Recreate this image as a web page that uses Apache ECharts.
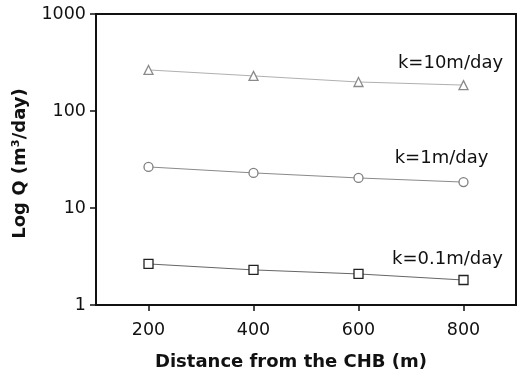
<!DOCTYPE html>
<html>
<head>
<meta charset="utf-8">
<script src="https://cdn.jsdelivr.net/npm/echarts@6/dist/echarts.min.js"></script>
<style>
  html, body { margin: 0; padding: 0; background: #fff; }
  #chart { width: 520px; height: 374px; }
</style>
</head>
<body>
<div id="chart"></div>
<script>
const distances = [200, 400, 600, 800];
const qK10 = [265, 230, 199, 185];
const qK1 = [26.5, 23, 20.4, 18.5];
const qK01 = [2.65, 2.3, 2.09, 1.81];
const xTicks = [200, 400, 600, 800];
const seriesNames = ['k=10m/day', 'k=1m/day', 'k=0.1m/day'];

const font = 'DejaVu Sans, Verdana, sans-serif';

function pairs(vals) {
  return distances.map((d, i) => [d, vals[i]]);
}

function makeSeries(name, vals, symbol, color, lineColor, offset) {
  const data = pairs(vals).map((p, i) => {
    if (i === vals.length - 1) {
      return {
        value: p,
        label: {
          show: true,
          formatter: name,
          position: 'top',
          offset: offset,
          color: '#111',
          fontSize: 18,
          fontFamily: font
        }
      };
    }
    return { value: p };
  });
  return {
    name: name,
    type: 'line',
    data: data,
    symbol: symbol,
    symbolSize: 9,
    showAllSymbol: true,
    lineStyle: { color: lineColor, width: 1 },
    itemStyle: { color: '#fff', borderColor: color, borderWidth: 1.3 },
    emphasis: { disabled: true },
    z: 3
  };
}

const chart = echarts.init(document.getElementById('chart'));
chart.setOption({
  animation: false,
  grid: {
    left: 96, right: 4, top: 14, bottom: 69,
    outerBoundsMode: 'none',
    containLabel: false,
    show: true, borderColor: '#111', borderWidth: 2, backgroundColor: '#fff'
  },
  xAxis: {
    type: 'value',
    min: 100,
    max: 900,
    name: 'Distance from the CHB (m)',
    nameLocation: 'middle',
    nameGap: 48,
    nameTextStyle: {
      fontFamily: font, fontWeight: 'bold', fontSize: 18, color: '#111',
      padding: [0, 30, 0, 0]
    },
    axisLine: { show: true, lineStyle: { color: '#111', width: 2 } },
    axisTick: { show: true, length: 6, lineStyle: { color: '#111', width: 1.5 }, customValues: xTicks },
    axisLabel: { fontFamily: font, fontSize: 17.5, color: '#111', margin: 16, customValues: xTicks },
    splitLine: { show: false }
  },
  yAxis: {
    type: 'log',
    logBase: 10,
    min: 1,
    max: 1000,
    name: 'Log Q (m\u00b3/day)',
    nameLocation: 'middle',
    nameGap: 67,
    nameTextStyle: {
      fontFamily: font, fontWeight: 'bold', fontSize: 18, color: '#111',
      padding: [0, 8, 0, 0]
    },
    axisLine: { show: true, lineStyle: { color: '#111', width: 2 } },
    axisTick: { show: true, length: 6, lineStyle: { color: '#111', width: 1.5 } },
    axisLabel: {
      fontFamily: font, fontSize: 17.5, color: '#111', margin: 10,
      formatter: v => String(Math.round(v))
    },
    splitLine: { show: false },
    minorTick: { show: false }
  },
  series: [
    makeSeries(seriesNames[0], qK10, 'triangle', '#8a8a8a', '#b0b0b0', [-13, -3]),
    makeSeries(seriesNames[1], qK1, 'circle', '#808080', '#8a8a8a', [-22, -5]),
    makeSeries(seriesNames[2], qK01, 'rect', '#222', '#666', [-16, -2])
  ]
});
</script>
</body>
</html>
